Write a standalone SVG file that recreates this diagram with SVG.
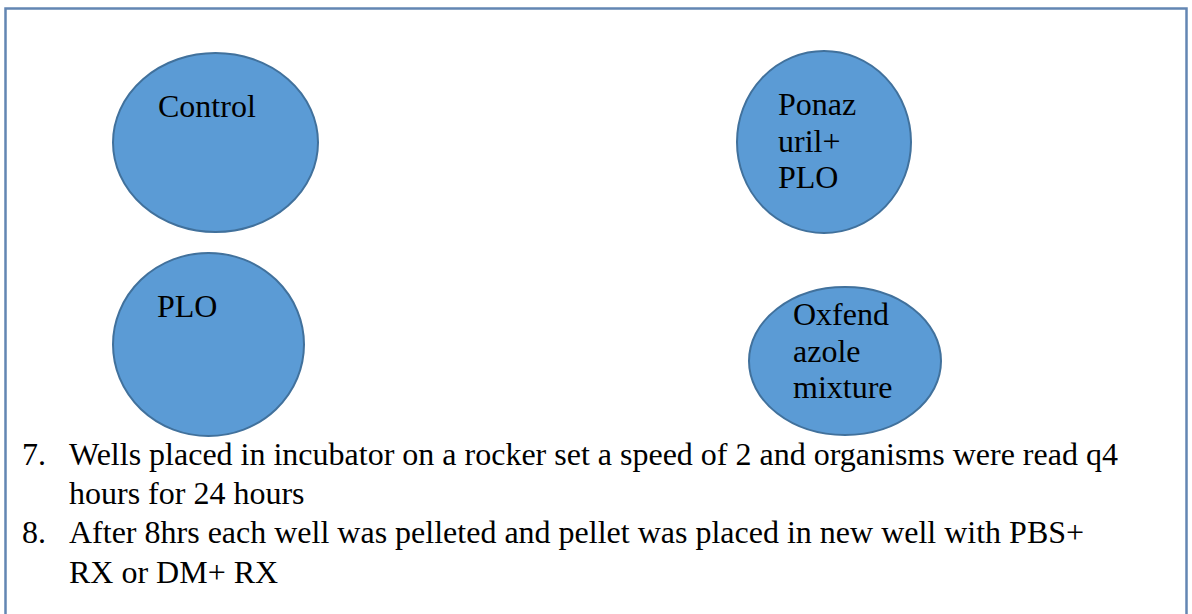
<svg xmlns="http://www.w3.org/2000/svg" width="1192" height="614" viewBox="0 0 1192 614">
<style>
.well{fill:#5b9bd5;stroke:#41719c;stroke-width:2}
.t{font-family:"Liberation Serif","Times New Roman",serif;font-size:32px;fill:#000}
</style>
<rect x="0" y="0" width="1192" height="614" fill="#fff"/>
<rect id="frame" x="5.5" y="8.5" width="1181" height="700" fill="none" stroke="#6386b3" stroke-width="2.5"/>
<g id="connectors"></g>
<g id="control">
<ellipse class="well" cx="215.5" cy="142.5" rx="102.5" ry="89.5"/>
<text class="t" x="158" y="117">Control</text>
</g>
<g id="ponazuril">
<ellipse class="well" cx="824" cy="142" rx="87" ry="91"/>
<text class="t" x="778" y="115">Ponaz</text>
<text class="t" x="778" y="152">uril+</text>
<text class="t" x="778" y="188">PLO</text>
</g>
<g id="plo">
<ellipse class="well" cx="208.5" cy="344.5" rx="95.5" ry="91.5"/>
<text class="t" x="157" y="317">PLO</text>
</g>
<g id="oxfendazole">
<ellipse class="well" cx="845" cy="361" rx="96" ry="74"/>
<text class="t" x="793" y="325">Oxfend</text>
<text class="t" x="793" y="362">azole</text>
<text class="t" x="793" y="398">mixture</text>
</g>
<g id="steps">
<text class="t" x="22" y="465">7.</text>
<text class="t" x="69" y="465">Wells placed in incubator on a rocker set a speed of 2 and organisms were read q4</text>
<text class="t" x="69" y="504">hours for 24 hours</text>
<text class="t" x="22" y="543">8.</text>
<text class="t" x="69" y="543">After 8hrs each well was pelleted and pellet was placed in new well with PBS+</text>
<text class="t" x="69" y="583">RX or DM+ RX</text>
</g>
</svg>
